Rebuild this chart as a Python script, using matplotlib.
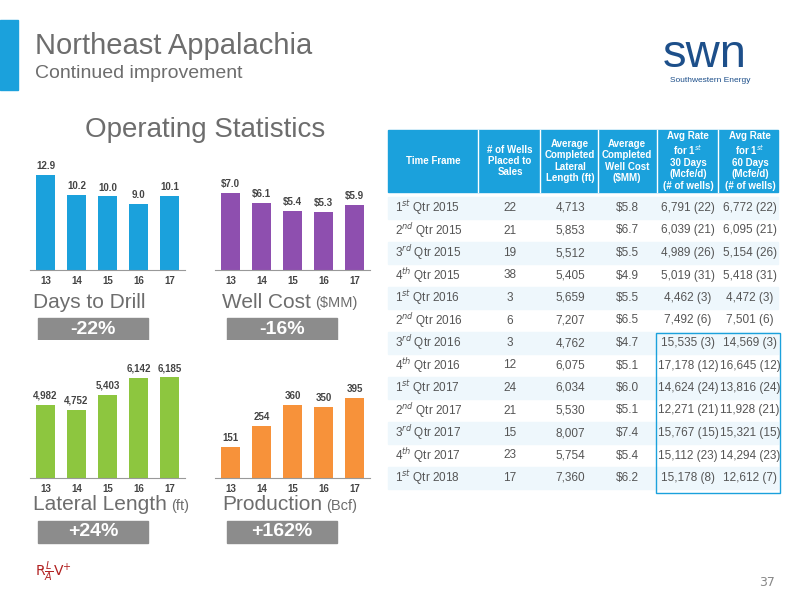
import matplotlib
matplotlib.use("Agg")
import matplotlib.pyplot as plt
from matplotlib.patches import Rectangle

years = ["13", "14", "15", "16", "17"]
days_to_drill = [12.9, 10.2, 10.0, 9.0, 10.1]
well_cost = [7.0, 6.1, 5.4, 5.3, 5.9]
lateral_length = [4982, 4752, 5403, 6142, 6185]
production = [151, 254, 360, 350, 395]

headers = ["Time Frame", "# of Wells\nPlaced to\nSales", "Average\nCompleted\nLateral\nLength (ft)",
           "Average\nCompleted\nWell Cost\n($MM)", "Avg Rate\nfor 1$^{st}$\n30 Days\n(Mcfe/d)\n(# of wells)",
           "Avg Rate\nfor 1$^{st}$\n60 Days\n(Mcfe/d)\n(# of wells)"]
quarters = ["1", "2", "3", "4", "1", "2", "3", "4", "1", "2", "3", "4", "1"]
suffix = {"1": "st", "2": "nd", "3": "rd", "4": "th"}
qyears = ["2015"]*4 + ["2016"]*4 + ["2017"]*4 + ["2018"]
wells = ["22", "21", "19", "38", "3", "6", "3", "12", "24", "21", "15", "23", "17"]
lateral = ["4,713", "5,853", "5,512", "5,405", "5,659", "7,207", "4,762", "6,075", "6,034", "5,530", "8,007", "5,754", "7,360"]
cost = ["$5.8", "$6.7", "$5.5", "$4.9", "$5.5", "$6.5", "$4.7", "$5.1", "$6.0", "$5.1", "$7.4", "$5.4", "$6.2"]
rate30 = ["6,791 (22)", "6,039 (21)", "4,989 (26)", "5,019 (31)", "4,462 (3)", "7,492 (6)", "15,535 (3)",
          "17,178 (12)", "14,624 (24)", "12,271 (21)", "15,767 (15)", "15,112 (23)", "15,178 (8)"]
rate60 = ["6,772 (22)", "6,095 (21)", "5,154 (26)", "5,418 (31)", "4,472 (3)", "7,501 (6)", "14,569 (3)",
          "16,645 (12)", "13,816 (24)", "11,928 (21)", "15,321 (15)", "14,294 (23)", "12,612 (7)"]

W, H = 800, 600
fig = plt.figure(figsize=(8, 6), dpi=100)
bg = fig.add_axes([0, 0, 1, 1])
bg.set_xlim(0, W); bg.set_ylim(H, 0); bg.axis("off")
rend = fig.canvas.get_renderer()

GRAY = "#6d6d6d"
BLUE = "#1BA1DC"
FAM = "Liberation Sans"

bg.add_patch(Rectangle((0, 20), 18, 70, color=BLUE))
bg.text(35, 46, "Northeast Appalachia", fontsize=21, color=GRAY, va="center", family=FAM)
bg.text(35, 73, "Continued improvement", fontsize=14, color=GRAY, va="center", family=FAM)
bg.text(705, 55, "swn", fontsize=34, color="#1d4f8a", ha="center", va="center", family=FAM)
bg.text(710, 80, "Southwestern Energy", fontsize=6, color="#1d4f8a", ha="center", va="center", family=FAM)
bg.text(85, 130, "Operating Statistics", fontsize=20, color=GRAY, va="center", family=FAM)
bg.text(775, 582, "37", fontsize=9, color="#888888", ha="right", va="center")
bg.text(35, 572, "R$\\frac{L}{A}$V$^{+}$", fontsize=10, color="#b22222", va="center")

def bar_chart(rect, vals, color, fmt, ylo=0, top=None):
    x0, y0, x1, y1 = rect
    ax = fig.add_axes([x0/W, 1-y1/H, (x1-x0)/W, (y1-y0)/H])
    ax.bar(range(len(vals)), vals, color=color, width=0.6)
    ax.set_ylim(ylo, top)
    ax.set_xlim(-0.5, len(vals)-0.5)
    for i, v in enumerate(vals):
        ax.text(i, v + (top-ylo)*0.03, fmt(v), ha="center", va="bottom", fontsize=7, fontweight="bold", color="#444444", family=FAM)
    ax.set_xticks(range(len(vals)))
    ax.set_xticklabels(years, fontsize=7, fontweight="bold", color="#444444", family=FAM)
    ax.set_yticks([])
    for s in ["top", "right", "left"]:
        ax.spines[s].set_visible(False)
    ax.spines["bottom"].set_color("#999999")
    ax.tick_params(axis="x", length=0, pad=4)

bar_chart((30, 150, 185, 270), days_to_drill, BLUE, lambda v: f"{v:.1f}", 0, 16.3)
bar_chart((215, 150, 370, 270), well_cost, "#8E4FAF", lambda v: f"${v:.1f}", 0, 10.9)
bar_chart((30, 340, 185, 478), lateral_length, "#8DC63F", lambda v: f"{v:,}", 1800, 7800)
bar_chart((215, 340, 370, 478), production, "#F7923A", lambda v: f"{v}", 0, 680)

def label(x, y, txt, unit, pct):
    t = bg.text(x, y, txt, fontsize=15, color=GRAY, va="center", family=FAM)
    if unit:
        bb = t.get_window_extent(rend)
        bg.text(x + bb.width + 4, y+1, unit, fontsize=10.5, color=GRAY, va="center", family=FAM)
    bg.add_patch(Rectangle((x+5, y+16), 110, 22, color="#8c8c8c"))
    bg.text(x+60, y+27, pct, fontsize=14, color="white", fontweight="bold", ha="center", va="center", family=FAM)

label(33, 302, "Days to Drill", None, "-22%")
label(222, 302, "Well Cost", "($MM)", "-16%")
label(33, 505, "Lateral Length", "(ft)", "+24%")
label(222, 505, "Production", "(Bcf)", "+162%")

col_edges = [388, 478, 540, 598, 657, 718, 778]
centers = [433, 510, 570, 627, 688, 750]
bg.add_patch(Rectangle((388, 130), 390, 62, color=BLUE))
for e in col_edges[1:-1]:
    bg.plot([e, e], [130, 192], color="white", lw=1)
for i, h in enumerate(headers):
    bg.text(centers[i], 161, h, fontsize=7, color="white", fontweight="bold", ha="center", va="center",
            linespacing=1.15, family=FAM)
row0, step = 208, 22.5
for r in range(len(wells)):
    y = row0 + r*step
    if r % 2 == 0:
        bg.add_patch(Rectangle((388, y-11), 390, 22, color="#eef7fc", zorder=0))
    vals = [wells[r], lateral[r], cost[r], rate30[r], rate60[r]]
    bg.text(395, y, f"{quarters[r]}$^{{{suffix[quarters[r]]}}}$ Qtr {qyears[r]}", fontsize=8.5, color="#555555",
            va="center", family=FAM)
    for c, v in enumerate(vals):
        bg.text(centers[c+1], y, v, fontsize=8.5, color="#555555", ha="center", va="center", family=FAM)
bg.add_patch(Rectangle((656, 333), 124, 160, fill=False, edgecolor=BLUE, lw=1))

fig.savefig("out.png", dpi=100)
